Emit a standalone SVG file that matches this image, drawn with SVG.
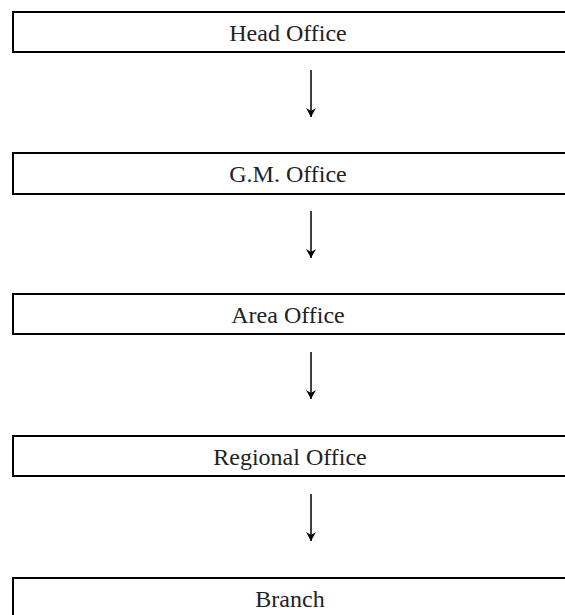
<svg xmlns="http://www.w3.org/2000/svg" width="565" height="615" viewBox="0 0 565 615">
<defs>
<marker id="ah" markerWidth="10" markerHeight="10" refX="9" refY="5" orient="auto" markerUnits="userSpaceOnUse">
<path d="M0,0 L9,5 L0,10 L3,5 Z" fill="#000"/>
</marker>
<style>
.box{fill:#fff;stroke:#000;stroke-width:2}
.lbl{font-family:"Liberation Serif",serif;font-size:24px;fill:#222;text-anchor:middle}
.con{stroke:#000;stroke-width:1.5;fill:none}
</style>
</defs>
<rect width="565" height="615" fill="#fff"/>
<g id="head-office"><rect class="box" x="13" y="12" width="560" height="40"/><text class="lbl" x="288" y="41">Head Office</text></g>
<g id="gm-office"><rect class="box" x="13" y="153" width="560" height="41"/><text class="lbl" x="288" y="182">G.M. Office</text></g>
<g id="area-office"><rect class="box" x="13" y="294" width="560" height="40"/><text class="lbl" x="288" y="323">Area Office</text></g>
<g id="regional-office"><rect class="box" x="13" y="436" width="560" height="40"/><text class="lbl" x="290" y="465">Regional Office</text></g>
<g id="branch"><rect class="box" x="13" y="578" width="560" height="45"/><text class="lbl" x="290" y="607">Branch</text></g>
<g id="connectors">
<line class="con" x1="311" y1="70" x2="311" y2="117" marker-end="url(#ah)"/>
<line class="con" x1="311" y1="211" x2="311" y2="258" marker-end="url(#ah)"/>
<line class="con" x1="311" y1="352" x2="311" y2="399" marker-end="url(#ah)"/>
<line class="con" x1="311" y1="494" x2="311" y2="541" marker-end="url(#ah)"/>
</g>
</svg>
